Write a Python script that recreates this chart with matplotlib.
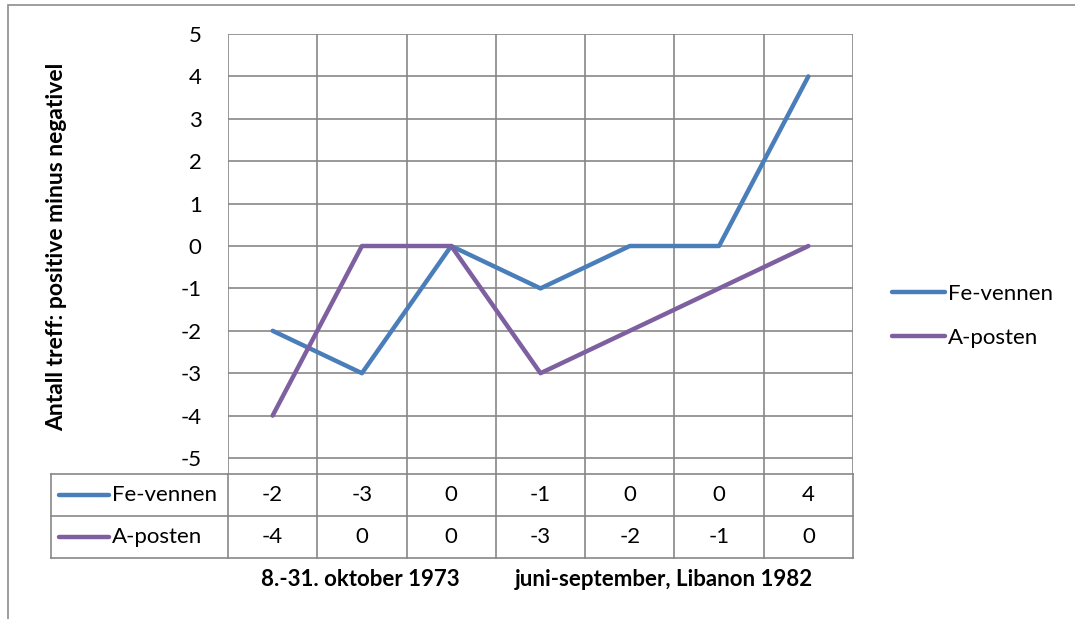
import matplotlib
matplotlib.use("Agg")
import matplotlib.pyplot as plt
from matplotlib.patches import Rectangle

plt.rcParams["font.family"] = ["Lato", "DejaVu Sans"]

# data
series_names = ["Fe-vennen", "A-posten"]
fe_vennen = [-2, -3, 0, -1, 0, 0, 4]
a_posten = [-4, 0, 0, -3, -2, -1, 0]
colors = ["#4A7EBB", "#7E60A1"]
y_ticks = [-5, -4, -3, -2, -1, 0, 1, 2, 3, 4, 5]
y_label = "Antall treff: positive minus negativel"
x_title_parts = ["8.-31. oktober 1973", "juni-september, Libanon 1982"]

W, H = 1075, 619
FS = 16
fig = plt.figure(figsize=(W / 100, H / 100), dpi=100)
grid_c = "#878787"

def fx(px):
    return px / W

def fy(py):
    return 1 - py / H

n = len(fe_vennen)
# plot area: x 228..853, y(5)=34, y(-5)=458, axes extends to table top at 474
left, right, top, tbl_top, tbl_bot = 228, 853, 34, 474, 558
unit = (458 - 34) / 10.0
ymin = -5 - (tbl_top - 458) / unit

ax = fig.add_axes([fx(left), fy(tbl_top), fx(right - left), (tbl_top - top) / H])
ax.set_xlim(-0.5, n - 0.5)
ax.set_ylim(ymin, 5)
for s in ax.spines.values():
    s.set_visible(False)
for v in y_ticks:
    ax.axhline(v, color=grid_c, lw=1.2, zorder=1)
for i in range(n + 1):
    ax.axvline(i - 0.5, color=grid_c, lw=1.2, zorder=1)
ax.set_xticks([])
ax.set_yticks(y_ticks)
ax.set_yticklabels([str(v) for v in y_ticks], fontsize=FS)
ax.tick_params(axis="y", length=0, pad=19)
lines = []
for vals, c, name in zip([fe_vennen, a_posten], colors, series_names):
    ln, = ax.plot(range(n), vals, color=c, lw=3.2, solid_capstyle="round", zorder=3, label=name)
    lines.append(ln)

fig.text(fx(57), fy(247), y_label, rotation=90, ha="center", va="center",
         fontsize=16.5, fontweight="bold")

# legend
leg = fig.legend(handles=lines, loc="center left", bbox_to_anchor=(fx(872), fy(316)),
                 frameon=False, fontsize=FS, handlelength=2.4, handletextpad=0.1,
                 labelspacing=1.1)

# data table
tab_left = 51
cw = (right - left) / n
tax = fig.add_axes([fx(tab_left), fy(tbl_bot), fx(right - tab_left), (tbl_bot - tbl_top) / H])
tax.set_xlim(-0.5 - (left - tab_left) / cw, n - 0.5)
tax.set_ylim(2, 0)
tax.axis("off")
x0 = -0.5 - (left - tab_left) / cw
for r in range(3):
    tax.plot([x0, n - 0.5], [r, r], color=grid_c, lw=1.2, clip_on=False)
tax.plot([x0, x0], [0, 2], color=grid_c, lw=1.2, clip_on=False)
for i in range(n + 1):
    tax.plot([i - 0.5, i - 0.5], [0, 2], color=grid_c, lw=1.2, clip_on=False)
key_len = 50 / cw
for r, (vals, c, name) in enumerate(zip([fe_vennen, a_posten], colors, series_names)):
    yc = r + 0.5
    tax.plot([x0 + 8 / cw, x0 + 8 / cw + key_len], [yc, yc], color=c, lw=3.2,
             solid_capstyle="round")
    tax.text(x0 + 8 / cw + key_len + 3 / cw, yc, name, ha="left", va="center", fontsize=FS)
    for i, v in enumerate(vals):
        tax.text(i, yc, str(v), ha="center", va="center", fontsize=FS)

fig.text(fx(360), fy(580), x_title_parts[0], ha="center", va="center", fontsize=FS,
         fontweight="bold")
fig.text(fx(664), fy(580), x_title_parts[1], ha="center", va="center", fontsize=FS,
         fontweight="bold")

# outer chart border (cut off at right and bottom as in the reference)
fig.patches.append(Rectangle((fx(8), fy(640)), fx(1100 - 8), (640 - 5) / H,
                             transform=fig.transFigure, fill=False, edgecolor="#8c8c8c",
                             lw=1.2))

fig.savefig("out.png", dpi=100)
